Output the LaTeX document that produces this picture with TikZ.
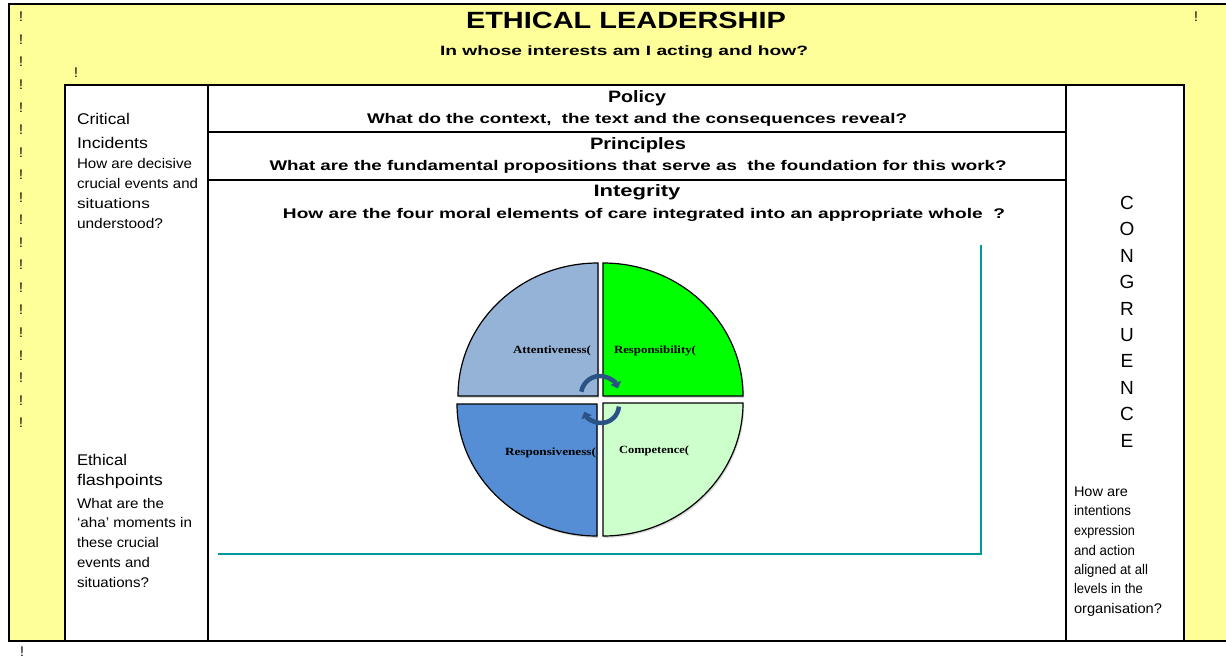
\documentclass[tikz,border=0pt]{standalone}
\usepackage{fontspec}
\setmainfont{Liberation Sans}
\newfontfamily\qserif{Liberation Serif}
\usetikzlibrary{arrows.meta,shadows}
\definecolor{paleyellow}{HTML}{FFFF99}
\definecolor{tealline}{HTML}{009999}
\definecolor{qtl}{HTML}{95B3D7}
\definecolor{qtr}{HTML}{00FF00}
\definecolor{qbl}{HTML}{558ED5}
\definecolor{qbr}{HTML}{CCFFCC}
\definecolor{arrowblue}{HTML}{2B5285}
\newsavebox\fbx
\newcommand\fitw[2]{\sbox\fbx{#2}\pgfmathsetmacro\fr{#1/\wd\fbx}\scalebox{\fr}[1]{\usebox\fbx}}
\newcommand\fsz[1]{\fontsize{#1}{#1}\selectfont}
\begin{document}
\begin{tikzpicture}[x=1pt,y=-1pt,
  lbl/.style={inner sep=0pt,outer sep=0pt},
  quad/.style={draw=black,line width=1.2pt,drop shadow={shadow xshift=1.2pt,shadow yshift=-1.8pt,opacity=0.3}},
  cyc/.style={arrowblue,line width=4.5pt,-{Triangle[width=11pt,length=6pt]}},
  bang/.style={lbl,font=\fsz{14}}]
\useasboundingbox (0,0) rectangle (1226,659);
\fill[white] (0,0) rectangle (1226,659);
% outer yellow frame
\fill[paleyellow] (9,4) rectangle (1226,641);
\draw[line width=2.5pt] (1226,4) -- (9,4) -- (9,641) -- (1226,641);
% inner table
\draw[line width=2pt,fill=white] (65,85) rectangle (1184,641);
\draw[line width=2pt] (208,85) -- (208,641);
\draw[line width=2pt] (1066,85) -- (1066,641);
\draw[line width=1.5pt] (208,132) -- (1066,132);
\draw[line width=1.5pt] (208,180) -- (1066,180);
% teal lines
\draw[tealline,line width=1.2pt] (218,554) -- (981,554) -- (981,245);
% exclamation marks
\foreach \i in {0,...,18}{
  \node[bang] (bang\i) at (21,{17+22.55*\i}) {!};
}
\node[bang] (bangA) at (76,73) {!};
\node[bang] (bangB) at (1196,17) {!};
\node[bang] (bangC) at (22,652) {!};
% title
\node[lbl,anchor=base] (title) at (626,28) {\fitw{320}{\fsz{23.5}\bfseries ETHICAL LEADERSHIP}};
\node[lbl,anchor=base] (subtitle) at (624,55) {\fitw{368}{\fsz{13.5}\bfseries In whose interests am I acting and how?}};
% middle rows
\node[lbl,anchor=base] (policy) at (637,102) {\fitw{58}{\fsz{16.5}\bfseries Policy}};
\node[lbl,anchor=base] (policyq) at (637,123) {\fitw{540}{\fsz{14}\bfseries What do the context,\ \ the text and the consequences reveal?}};
\node[lbl,anchor=base] (princ) at (638,149) {\fitw{96}{\fsz{16.5}\bfseries Principles}};
\node[lbl,anchor=base] (princq) at (638,170) {\fitw{737}{\fsz{14}\bfseries What are the fundamental propositions that serve as\ \ the foundation for this work?}};
\node[lbl,anchor=base] (integ) at (637,196) {\fitw{87}{\fsz{16.5}\bfseries Integrity}};
\node[lbl,anchor=base] (integq) at (644,218) {\fitw{722}{\fsz{14}\bfseries How are the four moral elements of care integrated into an appropriate whole\ \ ?}};
% left column
\node[lbl,anchor=base west] (ci1) at (77,124) {\fitw{53}{\fsz{15.5}Critical}};
\node[lbl,anchor=base west] (ci2) at (77,148) {\fitw{71}{\fsz{15.5}Incidents}};
\node[lbl,anchor=base west] (ci3) at (77,168) {\fitw{115}{\fsz{14}How are decisive}};
\node[lbl,anchor=base west] (ci4) at (77,188) {\fitw{121}{\fsz{14}crucial events and}};
\node[lbl,anchor=base west] (ci5) at (77,208) {\fitw{73}{\fsz{14}situations}};
\node[lbl,anchor=base west] (ci6) at (77,228) {\fitw{86}{\fsz{14}understood?}};
\node[lbl,anchor=base west] (ef1) at (77,465) {\fitw{50}{\fsz{15.5}Ethical}};
\node[lbl,anchor=base west] (ef2) at (77,485) {\fitw{86}{\fsz{15.5}flashpoints}};
\node[lbl,anchor=base west] (ef3) at (77,508) {\fitw{87}{\fsz{14}What are the}};
\node[lbl,anchor=base west] (ef4) at (77,527) {\fitw{115}{\fsz{14}‘aha’ moments in}};
\node[lbl,anchor=base west] (ef5) at (77,547) {\fitw{82}{\fsz{14}these crucial}};
\node[lbl,anchor=base west] (ef6) at (77,567) {\fitw{73}{\fsz{14}events and}};
\node[lbl,anchor=base west] (ef7) at (77,587) {\fitw{72}{\fsz{14}situations?}};
% right column
\foreach \l [count=\k from 0] in {C,O,N,G,R,U,E,N,C,E}{
  \node[lbl,font=\fsz{19}] (cg\k) at (1127,{203+26.4*\k}) {\l};
}
\node[lbl,anchor=base west] (cr1) at (1074,496) {\fitw{54}{\fsz{14}How are}};
\node[lbl,anchor=base west] (cr2) at (1074,515) {\fitw{57}{\fsz{14}intentions}};
\node[lbl,anchor=base west] (cr3) at (1074,535) {\fitw{61}{\fsz{14}expression}};
\node[lbl,anchor=base west] (cr4) at (1074,555) {\fitw{61}{\fsz{14}and action}};
\node[lbl,anchor=base west] (cr5) at (1074,574) {\fitw{74}{\fsz{14}aligned at all}};
\node[lbl,anchor=base west] (cr6) at (1074,593) {\fitw{69}{\fsz{14}levels in the}};
\node[lbl,anchor=base west] (cr7) at (1074,613) {\fitw{88}{\fsz{14}organisation?}};
% care circle
\path[quad,fill=qtl] (598,396) -- (458,396) arc[start angle=180,end angle=270,x radius=140,y radius=133] -- cycle;
\path[quad,fill=qtr] (603,396) -- (603,263) arc[start angle=270,end angle=360,x radius=140,y radius=133] -- cycle;
\path[quad,fill=qbl] (597,404) -- (457,404) arc[start angle=180,end angle=90,x radius=140,y radius=132] -- cycle;
\path[quad,fill=qbr] (603,403) -- (743,403) arc[start angle=0,end angle=90,x radius=140,y radius=133] -- cycle;
\node[lbl,anchor=base east] (att) at (591,353) {\fitw{78}{\qserif\fsz{11}\bfseries Attentiveness(}};
\node[lbl,anchor=base west] (resp) at (614,353) {\fitw{82}{\qserif\fsz{11}\bfseries Responsibility(}};
\node[lbl,anchor=base east] (rsv) at (596,455) {\fitw{91}{\qserif\fsz{11}\bfseries Responsiveness(}};
\node[lbl,anchor=base west] (comp) at (619,453) {\fitw{70}{\qserif\fsz{11}\bfseries Competence(}};
% cycle arrows
\coordinate (cyc1) at (600,395);
\coordinate (cyc2) at (601,405);
\draw[cyc] ([shift={(190:19)}]cyc1) arc[start angle=190,end angle=340,radius=19];
\draw[cyc] ([shift={(5:18)}]cyc2) arc[start angle=5,end angle=158,radius=18];
\end{tikzpicture}
\end{document}
